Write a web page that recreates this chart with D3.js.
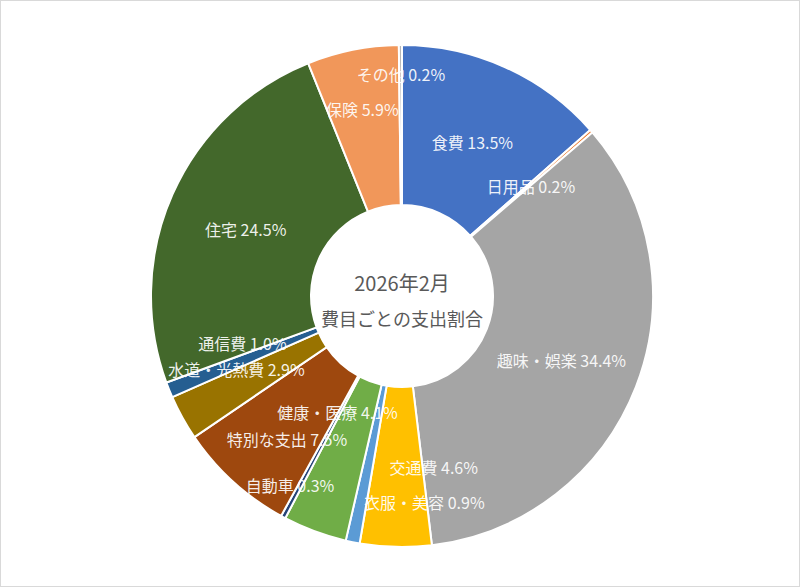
<!DOCTYPE html>
<html>
<head>
<meta charset="utf-8">
<script src="https://cdn.jsdelivr.net/npm/d3@7"></script>
<style>
  html, body { margin: 0; padding: 0; background: #fff; }
  svg { display: block; }
  .label { font-family: "Noto Sans CJK JP", "Noto Sans", sans-serif; font-size: 16px; fill: #fff; fill-opacity: 0.92; }
  .center-text { font-family: "Noto Sans CJK JP", "Noto Sans", sans-serif; fill: #595959; }
</style>
</head>
<body>
<div class="chart"></div>
<script>
// Data (clockwise from 12 o'clock)
var categories = ["食費", "日用品", "趣味・娯楽", "交通費", "衣服・美容", "健康・医療",
  "自動車", "特別な支出", "水道・光熱費", "通信費", "住宅", "保険", "その他"];
var shares = [13.5, 0.2, 34.4, 4.6, 0.9, 4.1, 0.3, 7.5, 2.9, 1.0, 24.5, 5.9, 0.2];
var colors = ["#4472C4", "#ED7D31", "#A5A5A5", "#FFC000", "#5B9BD5", "#70AD47",
  "#264478", "#9E480E", "#997300", "#255E91", "#43682B", "#F1975A", "#B7B7B7"];
var titleLines = ["2026年2月", "費目ごとの支出割合"];

// Label nudges (px from the ring centroid), like Excel's best-fit moves
var labelNudge = {
  "交通費": [36, -2], "衣服・美容": [56, 36], "健康・医療": [-5, -46],
  "自動車": [-31, 36], "特別な支出": [0, 15], "水道・光熱費": [-16, -12],
  "通信費": [-1, -19], "保険": [-6, -21], "その他": [0, -53]
};

var svgWidth = 800;
var svgHeight = 587;
var cx = 402, cy = 296;
var outerR = 251, innerR = 91;

var svg = d3.select(".chart")
  .append("svg")
  .attr("width", svgWidth)
  .attr("height", svgHeight);

// chart area border
svg.append("rect")
  .attr("x", 0.5).attr("y", 0.5)
  .attr("width", svgWidth - 1).attr("height", svgHeight - 1)
  .attr("fill", "#fff")
  .attr("stroke", "#d9d9d9");

var chartGroup = svg.append("g")
  .attr("transform", `translate(${cx}, ${cy})`);

var table = categories.map((c, i) => ({ name: c, value: shares[i], color: colors[i] }));

var pie = d3.pie()
  .value(d => d.value)
  .sort(null);

var arc = d3.arc()
  .innerRadius(innerR)
  .outerRadius(outerR);

var arcs = pie(table);

chartGroup.selectAll("path")
  .data(arcs)
  .enter()
  .append("path")
  .attr("d", arc)
  .attr("fill", d => d.data.color)
  .attr("stroke", "#fff")
  .attr("stroke-width", 2)
  .attr("stroke-linejoin", "round");

chartGroup.selectAll("text.label")
  .data(arcs)
  .enter()
  .append("text")
  .attr("class", "label")
  .attr("transform", function(d) {
    var c = arc.centroid(d);
    var n = labelNudge[d.data.name] || [0, 0];
    return `translate(${c[0] + n[0]}, ${c[1] + n[1] + 2})`;
  })
  .attr("text-anchor", "middle")
  .attr("dominant-baseline", "central")
  .text(d => `${d.data.name} ${d3.format(".1f")(d.data.value)}%`);

// centre title
chartGroup.append("text")
  .attr("class", "center-text")
  .attr("text-anchor", "middle")
  .attr("dominant-baseline", "central")
  .attr("y", -14)
  .style("font-size", "20px")
  .text(titleLines[0]);

chartGroup.append("text")
  .attr("class", "center-text")
  .attr("text-anchor", "middle")
  .attr("dominant-baseline", "central")
  .attr("y", 22)
  .style("font-size", "18px")
  .text(titleLines[1]);
</script>
</body>
</html>
